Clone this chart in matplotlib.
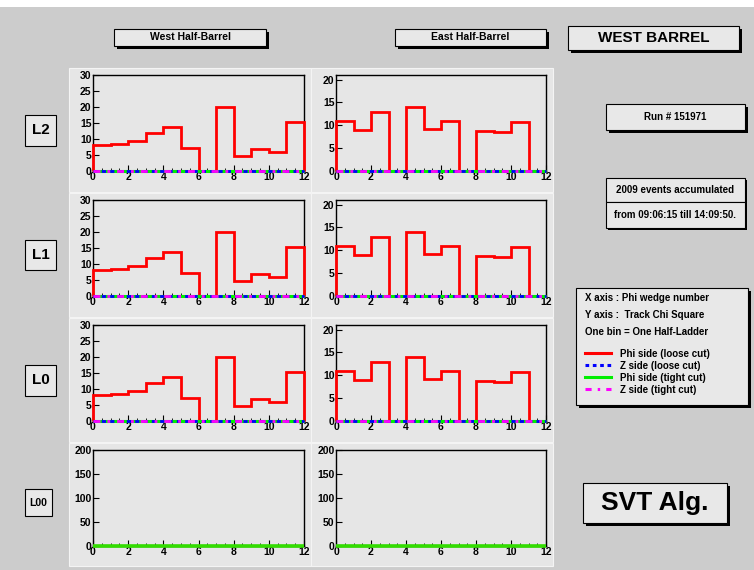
import matplotlib
matplotlib.use("Agg")
import matplotlib.pyplot as plt
from matplotlib.patches import Rectangle
from matplotlib.lines import Line2D
import numpy as np

# ---------------- data ----------------
phi_bins = list(range(13))            # bin edges 0..12
west_phi_loose = [8.1, 8.3, 9.4, 12.0, 13.9, 7.3, 0.0, 19.9, 4.6, 7.0, 6.0, 15.3]
east_phi_loose = [10.95, 9.0, 12.8, 0.0, 14.0, 9.1, 10.9, 0.0, 8.8, 8.5, 10.8, 0.0]
zeros = [0.0] * 12
layers = ["L2", "L1", "L0", "L00"]
west_ymax = [30, 30, 30, 200]
east_ymax = [21, 21, 21, 200]
legend_labels = ["Phi side (loose cut)", "Z side (loose cut)",
                 "Phi side (tight cut)", "Z side (tight cut)"]
info_lines = ["X axis : Phi wedge number", "Y axis :  Track Chi Square",
              "One bin = One Half-Ladder"]

W, H = 754, 570
fig = plt.figure(figsize=(W / 100, H / 100), dpi=100)
fig.patch.set_facecolor("#cccccc")
FONT = "Liberation Sans"

def fx(x):
    return x / W

def fy(y):
    return 1 - y / H

def rect(x0, y0, x1, y1, fc, ec="none", lw=0, z=0):
    r = Rectangle((fx(x0), fy(y1)), fx(x1) - fx(x0), fy(y0) - fy(y1),
                  transform=fig.transFigure, facecolor=fc, edgecolor=ec,
                  linewidth=lw, zorder=z)
    fig.add_artist(r)

def box(x0, y0, x1, y1, text, size, shadow=3, fc="#e8e8e8", family=FONT):
    if shadow:
        rect(x0 + shadow, y0 + shadow, x1 + shadow, y1 + shadow, "black", z=1)
    rect(x0, y0, x1, y1, fc, ec="black", lw=0.8, z=2)
    if text:
        fig.text(fx((x0 + x1) / 2), fy((y0 + y1) / 2), text, ha="center", va="center",
                 fontsize=size, fontweight="bold", family=family, zorder=3)

# top white strip
rect(0, 0, W, 7, "white", z=0)

# header boxes
box(114, 29, 266, 46, "West Half-Barrel", 7.5)
box(395, 29, 546, 46, "East Half-Barrel", 7.5)
box(568, 26, 739, 50, "WEST BARREL", 11)

# layer labels
label_y = [(115, 146), (240, 270), (365, 396), (489, 516)]
for (y0, y1), lab, in zip(label_y, layers):
    if lab == "L00":
        box(25, y0, 52, y1, lab, 7.5, shadow=0)
    else:
        box(25, y0, 56, y1, lab, 11, shadow=0)

# pads and axes
pad_rows = [(68, 192), (193, 317), (318, 442), (443, 566)]
ax_rows = [(75, 171), (200, 296), (325, 421), (450, 546)]
cols = [((69, 311), (93, 304)), ((311, 553), (336, 546))]

for r in range(4):
    for c in range(2):
        (px0, px1), (ax0, ax1) = cols[c]
        py0, py1 = pad_rows[r]
        rect(px0, py0, px1, py1, "#e6e6e6", ec="#f4f4f4", lw=0.8, z=0.5)
        ay0, ay1 = ax_rows[r]
        ax = fig.add_axes([fx(ax0), fy(ay1), fx(ax1) - fx(ax0), fy(ay0) - fy(ay1)])
        ax.set_facecolor("#e6e6e6")
        ax.set_zorder(5)
        vals = west_phi_loose if c == 0 else east_phi_loose
        ymax = west_ymax[r] if c == 0 else east_ymax[r]
        arts = []
        if r < 3:
            arts.append(ax.stairs(vals, phi_bins, color="red", lw=2, baseline=0, zorder=2))
            arts.append(ax.stairs(zeros, phi_bins, color="#00ee00", lw=2.2, baseline=None, zorder=3))
            arts.append(ax.stairs(zeros, phi_bins, color="blue", lw=2.0, linestyle=(0, (1.5, 1.5)),
                                  baseline=None, zorder=4))
            arts.append(ax.stairs(zeros, phi_bins, color="magenta", lw=2.0,
                                  linestyle=(0, (2.5, 2.5, 1, 2.5)), baseline=None, zorder=5))
        else:
            arts.append(ax.stairs(zeros, phi_bins, color="blue", lw=1.5, baseline=None, zorder=3))
            arts.append(ax.stairs(zeros, phi_bins, color="#33dd00", lw=2.6, baseline=None, zorder=4))
        for a in arts:
            a.set_clip_on(False)
        ax.set_xlim(0, 12)
        ax.set_ylim(0, ymax)
        ax.set_xticks(range(0, 13, 2))
        ax.set_xticks(np.arange(0, 12.01, 0.5), minor=True)
        if ymax >= 100:
            ax.set_yticks(range(0, 201, 50))
        else:
            ax.set_yticks(range(0, int(ymax) + 1, 5))
        ax.tick_params(direction="in", length=4, width=0.8, pad=1,
                       labelsize=7.5, top=False, right=False)
        ax.tick_params(which="minor", direction="in", length=2, width=0.6)
        ax.tick_params(axis="y", which="minor", left=False)
        for lab in ax.get_xticklabels() + ax.get_yticklabels():
            lab.set_fontweight("bold")
            lab.set_family(FONT)
        for s in ax.spines.values():
            s.set_linewidth(1.0)
            s.set_color("black")
            s.set_zorder(1)

# run box
box(606, 104, 745, 130, "Run # 151971", 7)
# events boxes
box(606, 178, 745, 202, "2009 events accumulated", 7, shadow=2)
box(606, 202, 745, 228, "from 09:06:15 till 14:09:50.", 7, shadow=2)

# legend box
box(576, 288, 748, 405, None, 7)
for i, t in enumerate(info_lines):
    fig.text(fx(585), fy(298 + 17 * i), t, ha="left", va="center", fontsize=7,
             fontweight="bold", family=FONT, zorder=4)
styles = [dict(color="red", lw=2.2, ls="-"),
          dict(color="blue", lw=2.2, ls=(0, (1.2, 1.2))),
          dict(color="#00ee00", lw=2.2, ls="-"),
          dict(color="magenta", lw=2.2, ls=(0, (2, 2, 0.8, 2)))]
for i, (t, st) in enumerate(zip(legend_labels, styles)):
    yy = 354 + 12 * i
    fig.add_artist(Line2D([fx(585), fx(611)], [fy(yy - 1), fy(yy - 1)],
                          transform=fig.transFigure, zorder=4, **st))
    fig.text(fx(620), fy(yy), t, ha="left", va="center", fontsize=7,
             fontweight="bold", family=FONT, zorder=4)

# SVT Alg box
box(583, 483, 727, 523, "SVT Alg.", 19)

fig.savefig("out.png", dpi=100, facecolor=fig.get_facecolor())
